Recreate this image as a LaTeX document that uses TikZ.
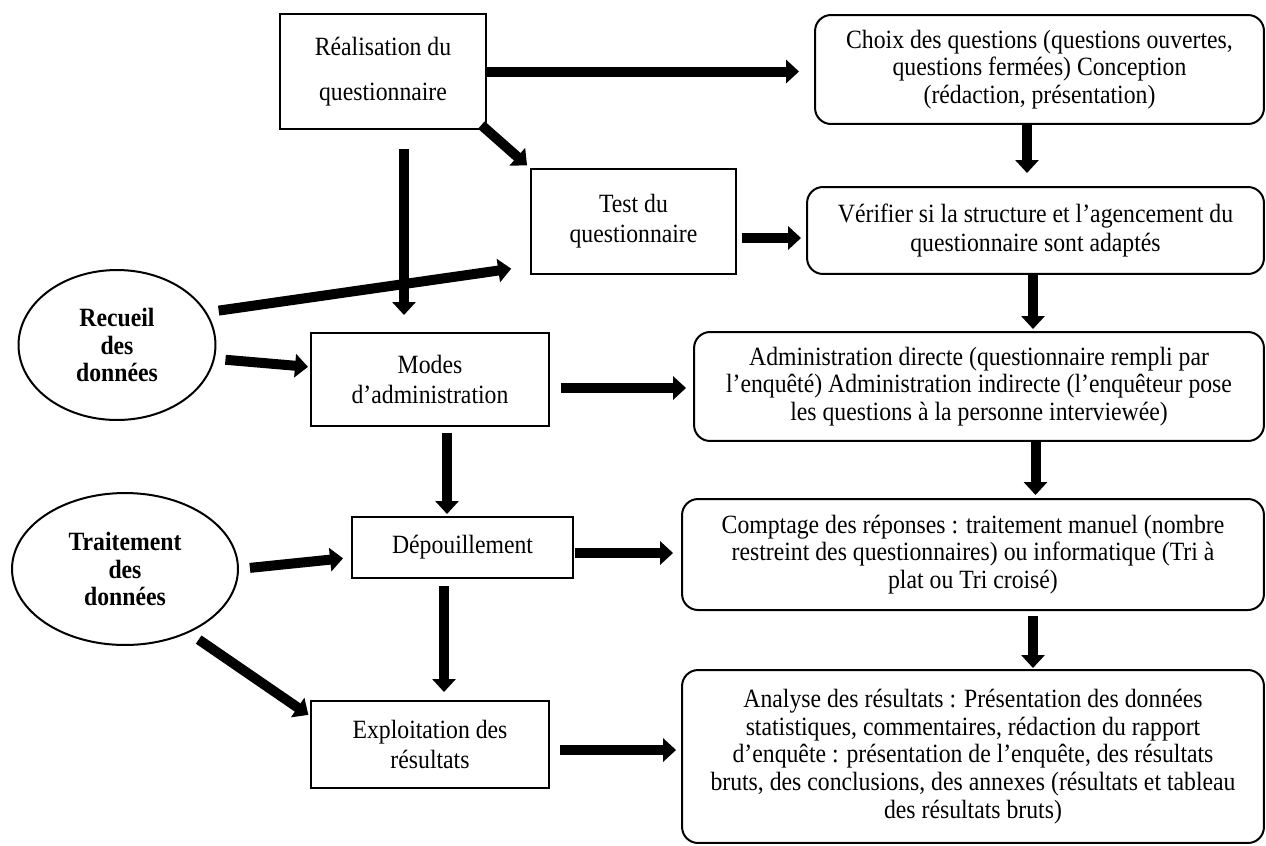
\documentclass[tikz,border=0pt]{standalone}
\usepackage{fontspec}
\setmainfont{Liberation Serif}[FakeStretch=0.9]
\usetikzlibrary{arrows.meta,calc,positioning,shapes.geometric}

\begin{document}
\begin{tikzpicture}[
    x=0.02cm,y=-0.02cm,
    font=\fontsize{15}{17}\selectfont,
    box/.style={draw,line width=0.04cm,align=center,inner sep=0pt},
    rbox/.style={box,rounded corners=0.32cm,font=\fontsize{15}{15.8}\selectfont},
    oval/.style={draw,ellipse,line width=0.04cm,align=center,inner sep=0pt,font=\fontsize{15}{15.5}\selectfont\bfseries},
    arr/.style={-{Triangle[length=0.26cm,width=0.46cm]},line width=0.2cm}
  ]
    \useasboundingbox (0,0) rectangle (1266,845);

    % steps, left column
    \node[box,minimum width=4.12cm,minimum height=2.30cm,font=\fontsize{15}{25.6}\selectfont] (real) at (383,71.5) {Réalisation du\\questionnaire};
    \node[box,minimum width=4.10cm,minimum height=2.10cm] (test) at (633.5,221.5) {Test du\\questionnaire};
    \node[box,minimum width=4.76cm,minimum height=1.86cm] (modes) at (430,379.5) {Modes\\d’administration};
    \node[box,minimum width=4.42cm,minimum height=1.22cm] (depou) at (462.5,547.5) {Dépouillement};
    \node[box,minimum width=4.76cm,minimum height=1.74cm] (exploit) at (430,744.5) {Exploitation des\\résultats};

    \node[oval,minimum width=3.94cm,minimum height=3.00cm] (recueil) at (117,345) {Recueil\\des\\données};
    \node[oval,minimum width=4.52cm,minimum height=3.04cm] (traite) at (125,569) {Traitement\\des\\données};

    % details, right column
    \node[rbox,minimum width=8.98cm,minimum height=2.18cm] (choix) at (1039.5,69.5) {Choix des questions (questions ouvertes,\\questions fermées) Conception\\(rédaction, présentation)};
    \node[rbox,minimum width=9.14cm,minimum height=1.74cm,font=\fontsize{15}{17}\selectfont] (verif) at (1035.5,230.5) {Vérifier si la structure et l’agencement du\\questionnaire sont adaptés};
    \node[rbox,minimum width=11.40cm,minimum height=2.18cm] (admin) at (979,386.5) {Administration directe (questionnaire rempli par\\l’enquêté) Administration indirecte (l’enquêteur pose\\les questions à la personne interviewée)};
    \node[rbox,minimum width=11.64cm,minimum height=2.22cm] (comptage) at (973,554.5) {Comptage des réponses : traitement manuel (nombre\\restreint des questionnaires) ou informatique (Tri à\\plat ou Tri croisé)};
    \node[rbox,minimum width=11.64cm,minimum height=3.46cm] (analyse) at (973,756.5) {Analyse des résultats : Présentation des données\\statistiques, commentaires, rédaction du rapport\\d’enquête : présentation de l’enquête, des résultats\\bruts, des conclusions, des annexes (résultats et tableau\\des résultats bruts)};

    % arrows
    \draw[arr,shorten >=0.3cm] (real.east) -- (real.east -| choix.west);
    \draw[arr,shorten <=-0.15cm,shorten >=0.08cm] (real.south east) -- (test.north west);
    \draw[arr,shorten <=0.38cm,shorten >=0.34cm] ([xshift=0.42cm]real.south) -- ([xshift=0.42cm]real.south |- modes.north);
    \draw[arr,shorten <=0.24cm,shorten >=0.38cm] (recueil.20) -- ([yshift=0.18cm]test.south west);
    \draw[arr,shorten <=0.18cm,shorten >=0.04cm] ([yshift=-0.28cm]recueil.east) -- ([yshift=0.25cm]modes.west);
    \draw[arr,shorten <=0.22cm,shorten >=0.14cm] ([yshift=-0.17cm]modes.east) -- ([yshift=-0.17cm]modes.east -| admin.west);
    \draw[arr,shorten <=0.12cm,shorten >=0.04cm] ([xshift=0.34cm]modes.south) -- ([xshift=0.34cm]modes.south |- depou.north);
    \draw[arr,shorten <=0.22cm,shorten >=0.16cm] (traite.east) -- ([yshift=-0.2cm]depou.west);
    \draw[arr,shorten <=0.02cm,shorten >=0.16cm] ([yshift=-0.11cm]depou.east) -- ([yshift=-0.11cm]depou.east -| comptage.west);
    \draw[arr,shorten <=0.14cm,shorten >=0.16cm] ([xshift=-0.37cm]depou.south) -- ([xshift=-0.37cm]depou.south |- exploit.north);
    \draw[arr,shorten <=0.24cm,shorten >=0.04cm] (traite.-45) -- ([yshift=-0.32cm]exploit.north west);
    \draw[arr,shorten <=0.2cm,shorten >=0.1cm] ([yshift=-0.11cm]exploit.east) -- ([yshift=-0.11cm]exploit.east -| analyse.west);
    \draw[arr,shorten <=0.1cm,shorten >=0.1cm] ([yshift=-0.33cm]test.east) -- ([yshift=-0.33cm]test.east -| verif.west);
    \draw[arr,shorten >=0.26cm] ([xshift=-0.25cm]choix.south) -- ([xshift=-0.25cm]choix.south |- verif.north);
    \draw[arr,shorten >=0.04cm] ([xshift=-0.05cm]verif.south) -- ([xshift=-0.05cm]verif.south |- admin.north);
    \draw[arr,shorten >=0.06cm] (admin.south -| verif.south) -- (comptage.north -| verif.south);
    \draw[arr,shorten <=0.1cm,shorten >=0.02cm] ([xshift=1.2cm]comptage.south) -- ([xshift=1.2cm]comptage.south |- analyse.north);
  \end{tikzpicture}
\end{document}
